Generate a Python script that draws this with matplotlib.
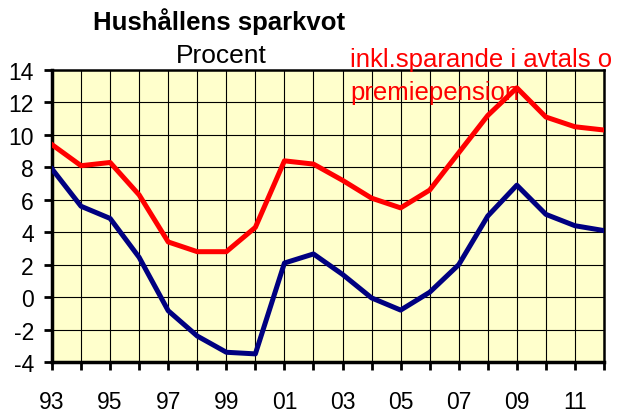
import numpy as np
import matplotlib.pyplot as plt

plt.rcParams['font.family'] = ['Liberation Sans', 'DejaVu Sans']
plt.rcParams['axes.unicode_minus'] = False

years = np.arange(1993, 2013)
# sparkvot inkl. avtalspension och premiepension
inkl_pension = [9.4, 8.1, 8.3, 6.3, 3.4, 2.8, 2.8, 4.3, 8.4, 8.2,
                7.2, 6.1, 5.5, 6.6, 8.9, 11.2, 12.9, 11.1, 10.5, 10.3]
# sparkvot exkl.
sparkvot = [7.9, 5.6, 4.85, 2.45, -0.84, -2.4, -3.4, -3.5, 2.1, 2.66,
            1.4, -0.05, -0.8, 0.3, 2.0, 5.0, 6.9, 5.1, 4.4, 4.1]
xlabels = ['93', '95', '97', '99', '01', '03', '05', '07', '09', '11']

fig = plt.figure(figsize=(6.19, 4.14), dpi=100)
ax = fig.add_axes([0.084, 0.1232, 0.8918, 0.7053])
ax.set_facecolor('#FFFFCC')

ax.plot(years, sparkvot, color='#000080', lw=3.6, zorder=3)
ax.plot(years, inkl_pension, color='#FF0000', lw=3.6, zorder=3)

ax.set_xlim(1993, 2012)
ax.set_ylim(-4, 14)
ax.set_yticks(np.arange(-4, 15, 2))
ax.set_xticks(years)
ax.set_xticklabels([xlabels[i // 2] if i % 2 == 0 else '' for i in range(len(years))])
ax.grid(True, color='black', lw=0.8)
ax.set_axisbelow(True)

ax.tick_params(axis='x', direction='out', length=6, width=2, labelsize=16.5, pad=14)
ax.tick_params(axis='y', direction='out', length=6, width=2, labelsize=16.5, pad=7)
for side in ['left', 'bottom']:
    ax.spines[side].set_linewidth(2.5)
for side in ['top', 'right']:
    ax.spines[side].set_linewidth(1.8)

fig.text(93 / 619, 1 - 30 / 414, 'Hushållens sparkvot', fontsize=18.5,
         fontweight='bold', va='baseline', ha='left')
fig.text(176 / 619, 1 - 63 / 414, 'Procent', fontsize=19,
         va='baseline', ha='left')
fig.text(350 / 619, 1 - 66.7 / 414, 'inkl.sparande i avtals o', fontsize=18.5,
         color='#FF0000', va='baseline', ha='left')
fig.text(350 / 619, 1 - 100 / 414, 'premiepension', fontsize=18.5,
         color='#FF0000', va='baseline', ha='left')

fig.savefig('out.png', dpi=100)
